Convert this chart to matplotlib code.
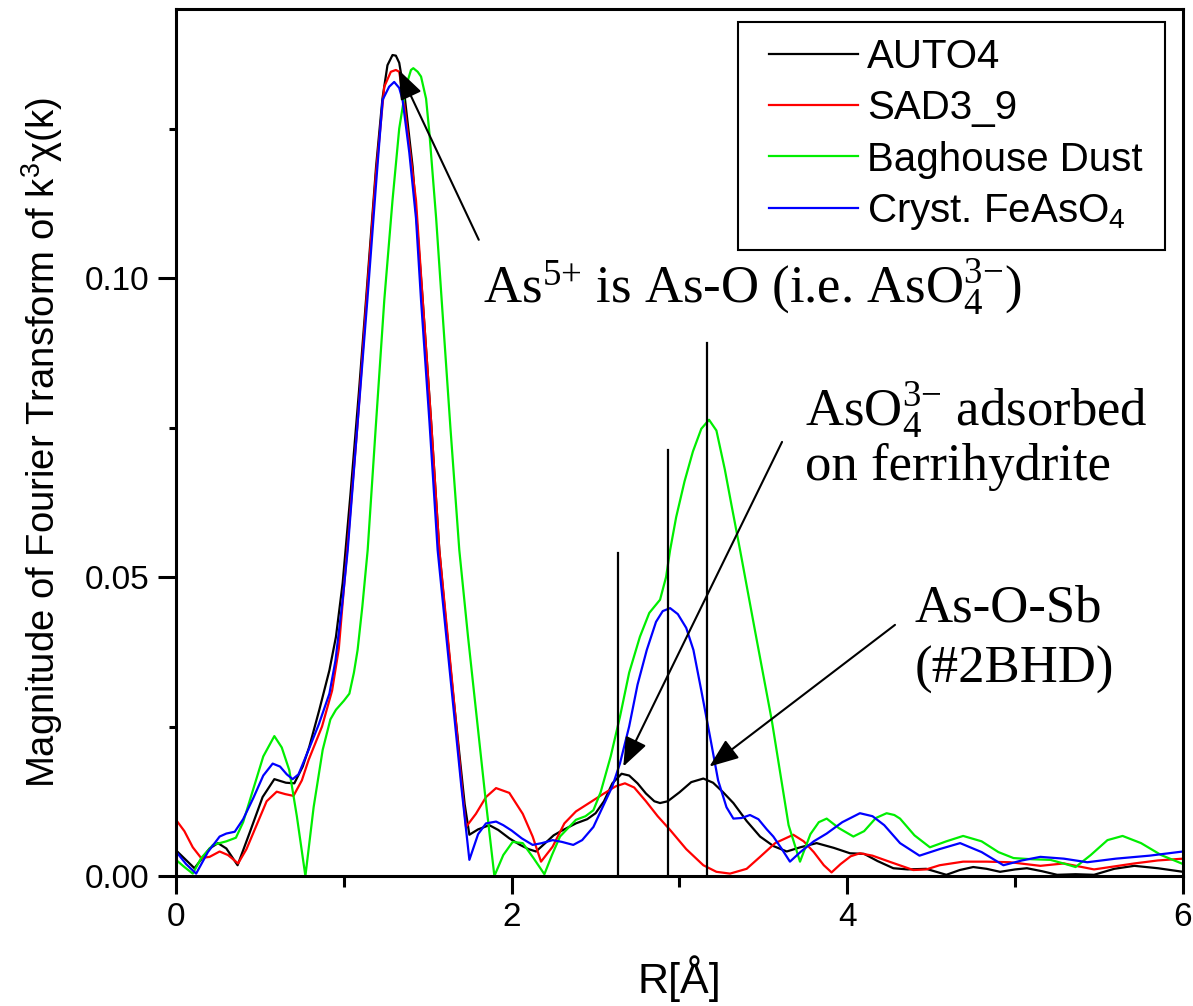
import matplotlib
matplotlib.use("Agg")
import matplotlib.pyplot as plt
from matplotlib.patches import Rectangle

# ---------------- data ----------------
r_auto4 = [0.0, 0.11, 0.20, 0.25, 0.30, 0.367, 0.437, 0.516, 0.586, 0.655, 0.705, 0.755, 0.794, 0.854,
           0.914, 0.953, 0.993, 1.04, 1.09, 1.132, 1.192, 1.23, 1.26, 1.29, 1.31, 1.33, 1.36, 1.41, 1.47,
           1.52, 1.569, 1.61, 1.649, 1.69, 1.72, 1.748, 1.80, 1.867, 1.92, 1.986, 2.05, 2.10, 2.145, 2.20,
           2.25, 2.30, 2.383, 2.45, 2.50, 2.55, 2.60, 2.655, 2.70, 2.75, 2.80, 2.85, 2.884, 2.93, 3.0, 3.07,
           3.142, 3.20, 3.26, 3.321, 3.40, 3.48, 3.56, 3.639, 3.72, 3.817, 3.92, 4.016, 4.10, 4.18, 4.274,
           4.36, 4.47, 4.59, 4.67, 4.75, 4.83, 4.91, 5.0, 5.07, 5.16, 5.25, 5.36, 5.47, 5.59, 5.71, 5.85, 6.0]
v_auto4 = [0.0043, 0.0013, 0.0046, 0.0055, 0.0046, 0.0018, 0.0071, 0.0132, 0.0162, 0.0156, 0.0155, 0.0183,
           0.0216, 0.0278, 0.0344, 0.0400, 0.049, 0.064, 0.081, 0.0963, 0.1186, 0.130, 0.1356, 0.1373,
           0.1372, 0.1360, 0.131, 0.1186, 0.0963, 0.076, 0.0545, 0.042, 0.031, 0.020, 0.012, 0.0069, 0.0078,
           0.0085, 0.0077, 0.0063, 0.0052, 0.0045, 0.0041, 0.0055, 0.0068, 0.0076, 0.0088, 0.0095, 0.0105,
           0.0125, 0.0155, 0.0171, 0.0168, 0.0155, 0.0138, 0.0125, 0.0122, 0.0125, 0.0140, 0.0157, 0.0163,
           0.0156, 0.0140, 0.0122, 0.0092, 0.0066, 0.0050, 0.0041, 0.0048, 0.0055, 0.0047, 0.0038, 0.0037,
           0.0025, 0.0013, 0.0011, 0.0012, 0.0002, 0.0010, 0.0015, 0.0012, 0.0007, 0.0011, 0.0013, 0.0008,
           0.0002, 0.0003, 0.0002, 0.0012, 0.0017, 0.0013, 0.0007]

r_sad = [0.0, 0.05, 0.10, 0.15, 0.20, 0.26, 0.31, 0.37, 0.42, 0.48, 0.54, 0.60, 0.65, 0.70, 0.75, 0.79,
         0.87, 0.93, 0.97, 1.00, 1.02, 1.08, 1.135, 1.19, 1.241, 1.28, 1.31, 1.33, 1.36, 1.43, 1.47, 1.52,
         1.569, 1.649, 1.70, 1.728, 1.787, 1.847, 1.907, 1.986, 2.066, 2.125, 2.175, 2.244, 2.314, 2.383,
         2.45, 2.55, 2.62, 2.675, 2.73, 2.80, 2.87, 2.944, 3.04, 3.142, 3.22, 3.301, 3.40, 3.48, 3.57,
         3.678, 3.74, 3.80, 3.86, 3.906, 3.96, 4.02, 4.075, 4.15, 4.25, 4.393, 4.47, 4.55, 4.69, 4.83,
         4.97, 5.06, 5.15, 5.22, 5.29, 5.38, 5.47, 5.59, 5.71, 5.85, 6.0]
v_sad = [0.0094, 0.0075, 0.0048, 0.0030, 0.0032, 0.0041, 0.0035, 0.0021, 0.0045, 0.0085, 0.0125, 0.0141,
         0.0137, 0.0134, 0.0160, 0.0194, 0.025, 0.031, 0.038, 0.048, 0.0545, 0.075, 0.0963, 0.117, 0.132,
         0.1345, 0.1348, 0.1345, 0.129, 0.113, 0.0963, 0.076, 0.0545, 0.0314, 0.016, 0.0082, 0.0104,
         0.0132, 0.0147, 0.0139, 0.0104, 0.0066, 0.0024, 0.0049, 0.0088, 0.0108, 0.0120, 0.0138, 0.0150,
         0.0155, 0.0148, 0.0125, 0.0100, 0.0077, 0.0045, 0.0018, 0.0007, 0.0004, 0.0012, 0.0032, 0.0055,
         0.0069, 0.0058, 0.0040, 0.0018, 0.0006, 0.0020, 0.0033, 0.0038, 0.0034, 0.0024, 0.0010, 0.0011,
         0.0018, 0.0024, 0.0024, 0.0023, 0.0020, 0.0017, 0.0019, 0.0021, 0.0016, 0.0011, 0.0016, 0.0021,
         0.0026, 0.0029]

r_bhd = [0.0, 0.05, 0.10, 0.15, 0.22, 0.30, 0.357, 0.40, 0.46, 0.52, 0.586, 0.63, 0.675, 0.72, 0.771, 0.82,
         0.874, 0.92, 0.953, 1.00, 1.033, 1.06, 1.082, 1.11, 1.142, 1.19, 1.241, 1.29, 1.33, 1.37, 1.40,
         1.414, 1.44, 1.46, 1.49, 1.51, 1.55, 1.583, 1.635, 1.688, 1.74, 1.79, 1.84, 1.897, 1.95, 2.006,
         2.066, 2.13, 2.195, 2.24, 2.288, 2.383, 2.44, 2.487, 2.53, 2.59, 2.645, 2.70, 2.764, 2.82, 2.884,
         2.92, 2.944, 2.98, 3.03, 3.08, 3.13, 3.176, 3.22, 3.27, 3.31, 3.361, 3.45, 3.55, 3.65, 3.718,
         3.78, 3.83, 3.877, 3.95, 4.036, 4.10, 4.17, 4.234, 4.28, 4.314, 4.40, 4.492, 4.59, 4.69, 4.80,
         4.90, 4.99, 5.10, 5.21, 5.30, 5.36, 5.45, 5.55, 5.64, 5.75, 5.87, 6.0]
v_bhd = [0.0027, 0.0015, 0.0004, 0.0030, 0.0052, 0.0058, 0.0064, 0.0090, 0.0145, 0.0200, 0.0234, 0.0215,
         0.0177, 0.0100, 0.0, 0.0115, 0.0211, 0.0262, 0.0278, 0.0293, 0.0305, 0.034, 0.0378, 0.045, 0.0545,
         0.075, 0.0963, 0.113, 0.125, 0.132, 0.1348, 0.1351, 0.1345, 0.1337, 0.130, 0.1242, 0.110, 0.0963,
         0.075, 0.0545, 0.040, 0.027, 0.014, 0.0, 0.0035, 0.0057, 0.0055, 0.0030, 0.0003, 0.0035, 0.0066,
         0.0094, 0.0100, 0.0110, 0.014, 0.020, 0.0266, 0.034, 0.040, 0.044, 0.0462, 0.050, 0.0545, 0.060,
         0.066, 0.071, 0.0748, 0.0763, 0.0745, 0.068, 0.062, 0.0545, 0.041, 0.026, 0.0085, 0.0024, 0.0070,
         0.0090, 0.0096, 0.0080, 0.0066, 0.0075, 0.0097, 0.0105, 0.0102, 0.0096, 0.0068, 0.0048, 0.0058,
         0.0067, 0.0058, 0.0040, 0.0030, 0.0028, 0.0027, 0.0020, 0.0015, 0.0035, 0.0060, 0.0067, 0.0055,
         0.0035, 0.0020]

r_feas = [0.0, 0.06, 0.12, 0.19, 0.26, 0.30, 0.35, 0.40, 0.46, 0.52, 0.576, 0.62, 0.66, 0.695, 0.73, 0.79,
          0.85, 0.914, 0.95, 0.993, 1.023, 1.08, 1.14, 1.19, 1.231, 1.27, 1.30, 1.33, 1.35, 1.39, 1.43,
          1.46, 1.51, 1.559, 1.60, 1.65, 1.70, 1.748, 1.80, 1.847, 1.907, 1.95, 2.0, 2.06, 2.125, 2.18,
          2.244, 2.30, 2.367, 2.42, 2.487, 2.55, 2.60, 2.645, 2.70, 2.75, 2.805, 2.86, 2.90, 2.944, 2.99,
          3.04, 3.083, 3.13, 3.182, 3.23, 3.28, 3.321, 3.37, 3.42, 3.47, 3.52, 3.559, 3.61, 3.658, 3.72,
          3.80, 3.877, 3.97, 4.075, 4.15, 4.22, 4.314, 4.43, 4.55, 4.672, 4.80, 4.93, 5.04, 5.15, 5.29,
          5.43, 5.60, 5.80, 6.0]
v_feas = [0.0041, 0.0020, 0.0004, 0.0040, 0.0066, 0.0071, 0.0074, 0.0095, 0.013, 0.0168, 0.0188, 0.0183,
          0.0170, 0.0162, 0.0170, 0.0211, 0.0253, 0.0305, 0.036, 0.0462, 0.0545, 0.075, 0.0963, 0.115,
          0.1298, 0.1320, 0.1328, 0.1318, 0.1298, 0.121, 0.110, 0.0963, 0.076, 0.0545, 0.043, 0.029, 0.015,
          0.0027, 0.0070, 0.0088, 0.0091, 0.0085, 0.0076, 0.0063, 0.0052, 0.0055, 0.0060, 0.0057, 0.0052,
          0.0060, 0.0082, 0.012, 0.015, 0.0188, 0.025, 0.032, 0.0378, 0.0425, 0.0443, 0.0448, 0.0438,
          0.0415, 0.0378, 0.031, 0.0233, 0.016, 0.0115, 0.0096, 0.0097, 0.0102, 0.0095, 0.0078, 0.0066,
          0.0045, 0.0024, 0.0040, 0.0058, 0.0071, 0.0090, 0.0105, 0.0100, 0.0085, 0.0055, 0.0034, 0.0045,
          0.0055, 0.0040, 0.0018, 0.0026, 0.0032, 0.0029, 0.0023, 0.0029, 0.0034, 0.0041]

series_labels = ["AUTO4", "SAD3_9", "Baghouse Dust", r"Cryst. FeAsO$_{4}$"]
series_colors = ["#000000", "#ff0000", "#00ee00", "#0000ff"]

# vertical marker lines: (R position, top value)
vline_r = [2.636, 2.933, 3.166]
vline_top = [0.054, 0.0712, 0.0891]

# ---------------- figure ----------------
W, H = 1193, 1006
sans = ["Liberation Sans", "DejaVu Sans"]
serif = ["Liberation Serif", "DejaVu Serif"]
plt.rcParams["font.family"] = sans
plt.rcParams["mathtext.default"] = "regular"

fig = plt.figure(figsize=(W / 100, H / 100), dpi=100)
ax = fig.add_axes([176 / W, 1 - 876 / H, (1183 - 176) / W, (876 - 9) / H])

for r, v, lab, col in zip([r_auto4, r_sad, r_bhd, r_feas], [v_auto4, v_sad, v_bhd, v_feas],
                          series_labels, series_colors):
    ax.plot(r, v, color=col, lw=1.6, label=lab, solid_joinstyle="round")

for xr, top in zip(vline_r, vline_top):
    ax.plot([xr, xr], [0, top], color="black", lw=1.6)

ax.set_xlim(0, 6)
ax.set_ylim(0, 0.145)
ax.set_xticks([0, 2, 4, 6])
ax.set_xticks([1, 3, 5], minor=True)
ax.set_yticks([0, 0.05, 0.10])
ax.set_yticklabels(["0.00", "0.05", "0.10"])
ax.set_yticks([0.025, 0.075, 0.125], minor=True)
ax.tick_params(which="major", direction="out", length=13, width=2.2, labelsize=24, pad=6)
ax.tick_params(axis="x", which="minor", direction="out", length=8, width=2.2)
ax.tick_params(axis="y", which="minor", direction="out", length=5, width=2.2)
for s in ax.spines.values():
    s.set_linewidth(2.2)

ax.set_xlabel("R[Å]", fontsize=31, labelpad=16)
ax.set_ylabel(r"Magnitude of Fourier Transform of k$^{3}$χ(k)", fontsize=27.5, labelpad=14)

# legend: content placed exactly, frame drawn as its own rectangle
leg = ax.legend(loc="upper left", bbox_to_anchor=(769 / W, 1 - 38 / H),
                bbox_transform=fig.transFigure, borderaxespad=0, borderpad=0, fontsize=29,
                frameon=False, handlelength=2.22, handletextpad=0.22, labelspacing=0.33)
for line in leg.get_lines():
    line.set_linewidth(1.6)
fig.add_artist(Rectangle((738 / W, 1 - 250 / H), (1165 - 738) / W, (250 - 22) / H,
                         transform=fig.transFigure, fill=False, edgecolor="black", lw=1.5))

# annotations
afs = 38
ax.text(1.829, 0.0958, r"As$^{5{+}}$ is As-O (i.e. AsO$_{4}^{3{-}}$)", fontsize=afs, family=serif,
        va="baseline", ha="left")
ax.text(3.748, 0.0751, r"AsO$_{4}^{3{-}}$ adsorbed", fontsize=afs, family=serif, va="baseline", ha="left")
ax.text(3.748, 0.0662, "on ferrihydrite", fontsize=afs, family=serif, va="baseline", ha="left")
ax.text(4.403, 0.0425, "As-O-Sb", fontsize=afs, family=serif, va="baseline", ha="left")
ax.text(4.403, 0.0324, "(#2BHD)", fontsize=afs, family=serif, va="baseline", ha="left")

arrow_kw = dict(arrowstyle="-|>,head_length=0.9,head_width=0.35", color="black", lw=1.5,
                shrinkA=0, shrinkB=0, mutation_scale=20)
ax.annotate("", xy=(1.327, 0.1348), xytext=(1.804, 0.1064), arrowprops=arrow_kw)
ax.annotate("", xy=(2.665, 0.0183), xytext=(3.611, 0.0726), arrowprops=arrow_kw)
ax.annotate("", xy=(3.178, 0.0183), xytext=(4.284, 0.042), arrowprops=arrow_kw)

fig.savefig("out.png", dpi=100)
